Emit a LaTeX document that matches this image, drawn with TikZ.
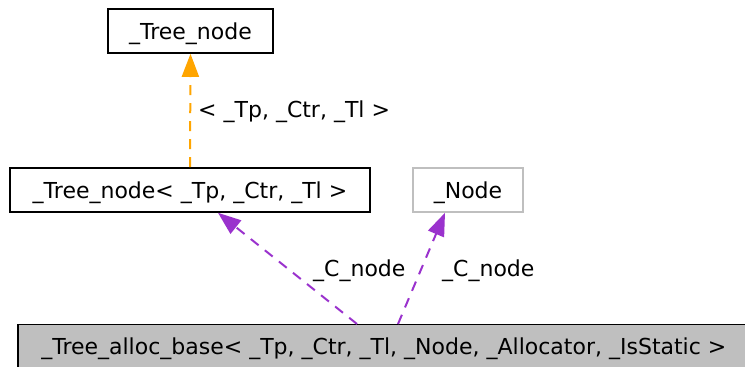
\documentclass[tikz,border=0pt]{standalone}
\usepackage{fontspec}
\setmainfont{DejaVu Sans}
\usetikzlibrary{arrows.meta}
\definecolor{edgeorange}{HTML}{FFA500}
\definecolor{edgepurple}{HTML}{9A32CD}
\definecolor{boxgray}{HTML}{BFBFBF}
\begin{document}
\begin{tikzpicture}[x=1pt,y=-1pt,
  every node/.style={font=\fontsize{22}{26}\selectfont, inner sep=0pt, text height=18pt, text depth=1pt},
  cls/.style={draw=black, line width=1.6pt, minimum height=44pt},
  edgelbl/.style={anchor=west},
  rel/.style={line width=2pt, dash pattern=on 10pt off 8pt},
  tip/.style={-{Triangle[length=23pt,width=17pt,fill=#1]}},
]
\useasboundingbox (0,0) rectangle (745,367);
\node[cls, minimum width=165pt] (tn) at (190.5,31) {\_Tree\_node};
\node[cls, minimum width=360pt] (tn2) at (190,190) {\_Tree\_node< \_Tp, \_Ctr, \_Tl >};
\node[draw=boxgray, line width=1.6pt, minimum height=44pt, minimum width=110pt] (nd) at (468,190) {\_Node};
\node[cls, fill=boxgray, minimum width=732pt, minimum height=43pt, anchor=west] (base) at (17,346) {\_Tree\_alloc\_base< \_Tp, \_Ctr, \_Tl, \_Node, \_Allocator, \_IsStatic >};
\coordinate (b1) at (357,324);
\coordinate (b2) at (398,324);
\draw[rel, draw=edgeorange, tip=edgeorange] (tn2.north) -- (tn.south);
\draw[rel, draw=edgepurple, tip=edgepurple] (b1) -- ([xshift=28pt]tn2.south);
\draw[rel, draw=edgepurple, tip=edgepurple] (b2) -- ([xshift=-23pt]nd.south);
\node[edgelbl] (l1) at (198,109) {< \_Tp, \_Ctr, \_Tl >};
\node[edgelbl] (l2) at (313,268) {\_C\_node};
\node[edgelbl] (l3) at (442,268) {\_C\_node};
\end{tikzpicture}
\end{document}
